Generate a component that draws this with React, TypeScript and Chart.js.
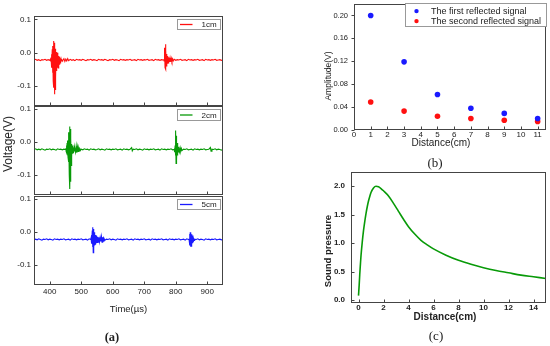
import React, { useEffect, useRef } from "react";
import { Chart, registerables } from "chart.js";
Chart.register(...registerables);

const SANS = '"Liberation Sans", Arial, Helvetica, sans-serif';
const SERIF = '"Liberation Serif", "Times New Roman", serif';
Chart.defaults.font.family = SANS;
Chart.defaults.color = "#222";

// ---------- (a) time signals: [time µs, voltage V] ----------
const sig1cm: [number, number][] = [
  [350,-0.022],[355,-0.020],[360,-0.023],[365,-0.021],[370,-0.024],[375,-0.021],[380,-0.022],[385,-0.020],[390,-0.023],[395,-0.021],[400,-0.023],
  [402,-0.020],[403,-0.026],[404,-0.015],[405,-0.035],[406,-0.005],[407,-0.045],[408,0.010],[409,-0.060],[410,0.020],[411,-0.085],[412,0.035],[413,-0.105],[414,0.030],[415,-0.125],[416,0.022],[417,-0.110],[418,0.012],[419,-0.075],[420,0.002],[421,-0.055],[422,-0.004],[423,-0.048],[424,0.000],[425,-0.045],[426,-0.006],[427,-0.046],[428,-0.010],[429,-0.040],[430,-0.012],[431,-0.036],[432,-0.015],[433,-0.031],[434,-0.017],[435,-0.028],[436,-0.019],[437,-0.026],[438,-0.020],[439,-0.025],[440,-0.021],
  [442,-0.024],[445,-0.018],[448,-0.026],[451,-0.019],[454,-0.025],[457,-0.018],[460,-0.024],[465,-0.020],[470,-0.023],[475,-0.021],[480,-0.024],[485,-0.020],[490,-0.022],[495,-0.021],[500,-0.023],[505,-0.020],[510,-0.022],[515,-0.024],[520,-0.021],[525,-0.022],[530,-0.020],[535,-0.023],[540,-0.021],[545,-0.022],[550,-0.024],[555,-0.020],[560,-0.022],[565,-0.021],[570,-0.023],[575,-0.020],[580,-0.022],[585,-0.024],[590,-0.021],[595,-0.022],[600,-0.020],[605,-0.023],[610,-0.021],[615,-0.022],[620,-0.024],[625,-0.020],[630,-0.022],[635,-0.021],[640,-0.023],[645,-0.021],[650,-0.022],[655,-0.020],[660,-0.023],[665,-0.022],[670,-0.021],[675,-0.024],[680,-0.020],[685,-0.022],[690,-0.021],[695,-0.023],[700,-0.021],[705,-0.022],[710,-0.020],[715,-0.023],[720,-0.022],[725,-0.021],[730,-0.024],[735,-0.020],[740,-0.022],[745,-0.021],[750,-0.023],[755,-0.021],[760,-0.022],
  [762,-0.020],[763,-0.025],[764,-0.010],[765,0.015],[766,-0.045],[767,0.025],[768,-0.050],[769,0.008],[770,-0.040],[771,-0.004],[772,-0.036],[773,-0.010],[774,-0.033],[775,-0.012],[776,-0.031],[777,-0.014],[778,-0.030],[779,-0.015],[780,-0.028],[782,-0.016],[784,-0.028],[786,-0.017],[788,-0.026],[790,-0.019],[792,-0.025],[795,-0.020],
  [800,-0.023],[805,-0.021],[810,-0.022],[815,-0.020],[820,-0.023],[825,-0.022],[830,-0.021],[835,-0.024],[840,-0.020],[845,-0.022],[850,-0.021],[855,-0.023],[860,-0.021],[865,-0.022],[870,-0.020],[875,-0.023],[880,-0.022],[885,-0.021],[890,-0.024],[895,-0.020],[900,-0.022],[905,-0.021],[910,-0.023],[915,-0.021],[920,-0.022],[925,-0.020],[930,-0.023],[935,-0.022],[940,-0.021],[945,-0.023],[950,-0.022],
];

const sig2cm: [number, number][] = [
  [350,-0.022],[355,-0.020],[360,-0.023],[365,-0.021],[370,-0.023],[375,-0.020],[380,-0.022],[385,-0.024],[390,-0.021],[395,-0.022],[400,-0.020],[405,-0.023],[410,-0.021],[415,-0.022],[420,-0.024],[425,-0.020],[430,-0.022],[435,-0.021],[440,-0.023],[445,-0.021],[450,-0.022],
  [451,-0.018],[452,-0.028],[453,-0.010],[454,-0.032],[455,-0.002],[456,-0.038],[457,0.005],[458,-0.045],[459,0.010],[460,-0.060],[461,0.030],[462,-0.100],[463,0.048],[464,-0.142],[465,0.040],[466,-0.120],[467,0.012],[468,-0.070],[469,-0.005],[470,-0.045],[471,-0.010],[472,-0.035],[473,-0.014],[474,-0.032],[475,-0.016],[476,-0.030],[477,-0.018],[478,-0.028],[480,-0.016],[482,-0.030],[484,-0.012],[486,-0.032],[488,-0.014],[490,-0.028],[492,-0.018],[494,-0.026],[496,-0.020],[498,-0.024],
  [500,-0.021],[505,-0.023],[510,-0.020],[515,-0.022],[520,-0.021],[525,-0.024],[530,-0.020],[535,-0.022],[540,-0.021],[545,-0.023],[550,-0.022],[555,-0.020],[560,-0.023],[565,-0.021],[570,-0.022],[575,-0.024],[580,-0.020],[585,-0.022],[590,-0.021],[595,-0.023],[600,-0.021],[605,-0.022],[610,-0.020],[615,-0.023],[620,-0.022],[625,-0.021],[630,-0.024],[635,-0.020],[640,-0.022],[645,-0.021],[650,-0.023],[655,-0.021],[660,-0.016],[662,-0.026],[665,-0.021],[670,-0.022],[675,-0.020],[680,-0.023],[685,-0.021],[690,-0.022],[695,-0.024],[700,-0.020],[705,-0.022],[710,-0.021],[715,-0.023],[720,-0.021],[725,-0.022],[730,-0.020],[735,-0.023],[740,-0.022],[745,-0.021],[750,-0.024],[755,-0.020],[760,-0.022],[765,-0.021],[770,-0.023],[775,-0.021],[780,-0.022],[785,-0.020],[790,-0.023],[795,-0.022],
  [796,-0.018],[797,-0.030],[798,-0.010],[799,-0.040],[800,0.036],[801,-0.064],[802,0.020],[803,-0.055],[804,-0.002],[805,-0.040],[806,-0.010],[807,-0.034],[808,-0.014],[809,-0.031],[810,-0.016],[812,-0.029],[814,-0.017],[816,-0.027],[818,-0.019],[820,-0.025],
  [825,-0.021],[830,-0.022],[835,-0.020],[840,-0.023],[845,-0.022],[850,-0.021],[855,-0.024],[860,-0.020],[865,-0.022],[870,-0.021],[875,-0.023],[880,-0.021],[885,-0.022],[890,-0.020],[895,-0.023],[900,-0.022],[905,-0.021],[910,-0.016],[912,-0.027],[915,-0.021],[920,-0.022],[925,-0.020],[930,-0.023],[935,-0.021],[940,-0.022],[945,-0.024],[950,-0.021],
];

const sig5cm: [number, number][] = [
  [350,-0.022],[355,-0.021],[360,-0.023],[365,-0.020],[370,-0.022],[375,-0.024],[380,-0.021],[385,-0.022],[390,-0.020],[395,-0.023],[400,-0.021],[405,-0.022],[410,-0.024],[415,-0.020],[420,-0.022],[425,-0.021],[430,-0.023],[435,-0.021],[440,-0.022],[445,-0.020],[450,-0.023],[455,-0.022],[460,-0.021],[465,-0.024],[470,-0.020],[475,-0.022],[480,-0.021],[485,-0.023],[490,-0.021],[495,-0.022],[500,-0.020],[505,-0.023],[510,-0.022],[515,-0.021],[520,-0.024],[525,-0.020],[530,-0.022],
  [531,-0.018],[532,-0.028],[533,-0.008],[534,-0.035],[535,0.005],[536,-0.045],[537,0.015],[538,-0.062],[539,0.010],[540,-0.050],[541,0.000],[542,-0.040],[543,-0.005],[544,-0.036],[545,-0.008],[546,-0.034],[547,-0.010],[548,-0.033],[549,-0.012],[550,-0.031],[552,-0.014],[554,-0.030],[556,-0.015],[558,-0.029],[560,-0.016],[562,-0.028],[564,-0.013],[566,-0.030],[568,-0.015],[570,-0.027],[572,-0.018],[575,-0.024],
  [580,-0.021],[585,-0.022],[590,-0.020],[595,-0.023],[600,-0.021],[605,-0.022],[610,-0.024],[615,-0.020],[620,-0.022],[625,-0.021],[630,-0.023],[635,-0.021],[640,-0.022],[645,-0.020],[650,-0.023],[655,-0.022],[660,-0.021],[665,-0.024],[670,-0.020],[675,-0.022],[680,-0.021],[685,-0.023],[690,-0.021],[695,-0.022],[700,-0.020],[705,-0.023],[710,-0.022],[715,-0.021],[720,-0.024],[725,-0.020],[730,-0.022],[735,-0.021],[740,-0.023],[745,-0.021],[750,-0.022],[755,-0.020],[760,-0.023],[765,-0.022],[770,-0.021],[775,-0.024],[780,-0.020],[785,-0.022],[790,-0.021],[795,-0.023],[800,-0.021],[805,-0.022],[810,-0.020],[815,-0.023],[820,-0.022],[825,-0.021],[830,-0.024],[835,-0.020],[840,-0.022],
  [842,-0.020],[843,-0.028],[844,-0.005],[845,-0.040],[846,0.000],[847,-0.044],[848,-0.002],[849,-0.042],[850,-0.006],[851,-0.038],[852,-0.010],[853,-0.033],[854,-0.015],[855,-0.029],[856,-0.018],[858,-0.025],
  [860,-0.021],[865,-0.022],[870,-0.020],[875,-0.023],[880,-0.021],[885,-0.022],[890,-0.024],[895,-0.020],[900,-0.022],[905,-0.021],[910,-0.023],[915,-0.021],[920,-0.022],[925,-0.020],[930,-0.023],[935,-0.022],[940,-0.021],[945,-0.023],[950,-0.022],
];

const timeTicks = [400, 500, 600, 700, 800, 900];
const voltTicks = [-0.1, 0, 0.1];

// ---------- (b) reflected amplitudes ----------
const distB = [1, 3, 5, 7, 9, 11];
const firstRefl = [0.200, 0.119, 0.062, 0.038, 0.029, 0.020];
const secondRefl = [0.049, 0.033, 0.024, 0.020, 0.017, 0.015];
const distTicksB = [0, 1, 2, 3, 4, 5, 6, 7, 8, 9, 10, 11];
const ampTicks = [0, 0.04, 0.08, 0.12, 0.16, 0.2];

// ---------- (c) sound pressure ----------
const distC = [0,0.05,0.1,0.15,0.2,0.3,0.4,0.5,0.6,0.7,0.8,0.9,1.0,1.2,1.4,1.6,1.8,2.0,2.4,2.8,3.2,3.6,4.0,4.5,5,5.5,6,7,8,9,10,11,12,13,14,15];
const pressure = [0.08,0.25,0.45,0.62,0.78,1.02,1.22,1.38,1.52,1.64,1.74,1.82,1.89,1.97,2.00,1.99,1.96,1.92,1.83,1.70,1.56,1.42,1.29,1.16,1.05,0.97,0.90,0.79,0.70,0.63,0.57,0.52,0.48,0.44,0.41,0.38];
const distTicksC = [0, 2, 4, 6, 8, 10, 12, 14];
const pressTicks = [0, 0.5, 1, 1.5, 2];

const RED = "#ff1010";
const GREEN = "#089a08";
const BLUE = "#1a1aff";

const setTicks = (vals: number[]) => (s: any) => {
  s.ticks = vals.map((v) => ({ value: v }));
};
const fixSize = (n: number) => (s: any) => {
  if (s.isHorizontal()) s.height = n;
  else s.width = n;
  s.paddingTop = 0;
  s.paddingBottom = 0;
  s.paddingLeft = 0;
  s.paddingRight = 0;
};

const framePlugin = {
  id: "frame",
  afterDraw(chart: any, _a: any, o: any) {
    const { ctx, chartArea: a } = chart;
    const xs = chart.scales.x;
    const ys = chart.scales.y;
    const L = Math.round(a.left) + 0.5;
    const T = Math.round(a.top) + 0.5;
    const R = Math.round(a.right) - 0.5;
    const B = Math.round(a.bottom) - 0.5;
    ctx.save();
    ctx.strokeStyle = o.color || "#444";
    ctx.lineWidth = 1;
    ctx.strokeRect(L, T, R - L, B - T);
    const len = o.len ?? 3;
    ctx.beginPath();
    xs.ticks.forEach((t: any) => {
      const px = Math.round(xs.getPixelForValue(t.value)) + 0.5;
      const d = o.xOut ? 1 : -1;
      ctx.moveTo(px, B);
      ctx.lineTo(px, B + d * len);
    });
    ys.ticks.forEach((t: any) => {
      const py = Math.round(ys.getPixelForValue(t.value)) + 0.5;
      const d = o.yOut ? -1 : 1;
      ctx.moveTo(L, py);
      ctx.lineTo(L + d * len, py);
    });
    ctx.stroke();
    ctx.restore();
  },
};

const boxLegendPlugin = {
  id: "boxLegend",
  afterDraw(chart: any, _a: any, o: any) {
    if (!o || !o.show) return;
    const { ctx, chartArea: a } = chart;
    const left = Math.round(a.right - o.right - o.width) + 0.5;
    const top = Math.round(a.top + o.top) + 0.5;
    ctx.save();
    ctx.fillStyle = "#fff";
    ctx.fillRect(left, top, o.width, o.height);
    ctx.strokeStyle = o.frameColor || "#888";
    ctx.lineWidth = 1;
    ctx.strokeRect(left, top, o.width, o.height);
    ctx.font = `${o.fontSize}px ${SANS}`;
    ctx.textAlign = "left";
    ctx.textBaseline = "middle";
    chart.data.datasets.forEach((ds: any, i: number) => {
      const cy = top + o.rowTop + i * (o.rowGap || 0);
      const col = String(ds.borderColor || ds.backgroundColor);
      if (o.kind === "line") {
        ctx.strokeStyle = col;
        ctx.lineWidth = 1.3;
        ctx.beginPath();
        ctx.moveTo(left + o.s0, cy);
        ctx.lineTo(left + o.s1, cy);
        ctx.stroke();
      } else {
        ctx.fillStyle = col;
        ctx.beginPath();
        ctx.arc(left + o.s0, cy, o.dot || 2, 0, Math.PI * 2);
        ctx.fill();
      }
      ctx.fillStyle = "#222";
      ctx.fillText(ds.label, left + o.textX, cy + 0.5);
    });
    ctx.restore();
  },
};

function signalConfig(pts: [number, number][], label: string, color: string, padTop: number, xH: number, showX: boolean, legH: number): any {
  return {
    type: "line",
    data: {
      datasets: [
        {
          label,
          data: pts.map(([x, y]) => ({ x, y })),
          borderColor: color,
          backgroundColor: color,
          borderWidth: 1.1,
          pointRadius: 0,
          tension: 0,
          fill: false,
        },
      ],
    },
    options: {
      animation: false,
      responsive: false,
      devicePixelRatio: 1,
      layout: { padding: { top: padTop, right: 7, bottom: 0, left: 0 } },
      plugins: {
        legend: { display: false },
        tooltip: { enabled: false },
        frame: { color: "#444", len: 3 },
        boxLegend: { show: true, right: 3, top: 3, width: 43, height: legH, fontSize: 8, kind: "line", s0: 2.5, s1: 15, rowTop: legH / 2, textX: 24, frameColor: "#999" },
      },
      scales: {
        x: {
          type: "linear",
          min: 350,
          max: 950,
          afterBuildTicks: setTicks(timeTicks),
          afterFit: fixSize(xH),
          grid: { display: false, drawTicks: false },
          border: { display: false },
          ticks: { display: showX, padding: 2, font: { size: 8 }, color: "#222", callback: (v: any) => String(v) },
          title: showX
            ? { display: true, text: "Time(µs)", padding: 0, font: { size: 9.5 }, color: "#222" }
            : { display: false },
        },
        y: {
          type: "linear",
          min: -0.16,
          max: 0.11,
          afterBuildTicks: setTicks(voltTicks),
          afterFit: fixSize(34),
          grid: { display: false, drawTicks: false },
          border: { display: false },
          ticks: { padding: 3, font: { size: 8 }, color: "#222", callback: (v: any) => Number(v).toFixed(1) },
        },
      },
    },
    plugins: [framePlugin, boxLegendPlugin],
  };
}

function scatterConfig(): any {
  return {
    type: "scatter",
    data: {
      datasets: [
        {
          label: "The first reflected signal",
          data: distB.map((d, i) => ({ x: d, y: firstRefl[i] })),
          backgroundColor: BLUE,
          borderColor: BLUE,
          borderWidth: 0,
          pointRadius: 2.8,
        },
        {
          label: "The second reflected signal",
          data: distB.map((d, i) => ({ x: d, y: secondRefl[i] })),
          backgroundColor: RED,
          borderColor: RED,
          borderWidth: 0,
          pointRadius: 2.8,
        },
      ],
    },
    options: {
      animation: false,
      responsive: false,
      devicePixelRatio: 1,
      layout: { padding: { top: 2.4, right: 3, bottom: 1, left: 0 } },
      plugins: {
        legend: { display: false },
        tooltip: { enabled: false },
        frame: { color: "#444", len: 3, yOut: true },
        boxLegend: { show: true, right: 0, top: -1, width: 141, height: 23, fontSize: 9, kind: "dot", dot: 2.2, s0: 11, rowTop: 7.6, rowGap: 10, textX: 25.5, frameColor: "#999" },
      },
      scales: {
        x: {
          type: "linear",
          min: 0,
          max: 11.5,
          afterBuildTicks: setTicks(distTicksB),
          afterFit: fixSize(19),
          grid: { display: false, drawTicks: false },
          border: { display: false },
          ticks: { padding: 0, font: { size: 8 }, color: "#222", callback: (v: any) => String(v) },
        },
        y: {
          type: "linear",
          min: 0,
          max: 0.22,
          afterBuildTicks: setTicks(ampTicks),
          afterFit: fixSize(31),
          grid: { display: false, drawTicks: false },
          border: { display: false },
          ticks: { padding: 6, font: { size: 7.5 }, color: "#222", callback: (v: any) => Number(v).toFixed(2) },
        },
      },
    },
    plugins: [framePlugin, boxLegendPlugin],
  };
}

function pressureConfig(): any {
  return {
    type: "line",
    data: {
      datasets: [
        {
          label: "Sound pressure",
          data: distC.map((d, i) => ({ x: d, y: pressure[i] })),
          borderColor: GREEN,
          backgroundColor: GREEN,
          borderWidth: 1.6,
          pointRadius: 0,
          cubicInterpolationMode: "monotone",
          fill: false,
        },
      ],
    },
    options: {
      animation: false,
      responsive: false,
      devicePixelRatio: 1,
      layout: { padding: { top: 7, right: 4, bottom: 2, left: 0 } },
      plugins: {
        legend: { display: false },
        tooltip: { enabled: false },
        frame: { color: "#444", len: 3 },
        boxLegend: { show: false },
      },
      scales: {
        x: {
          type: "linear",
          min: -0.6,
          max: 15,
          afterBuildTicks: setTicks(distTicksC),
          afterFit: fixSize(20),
          grid: { display: false, drawTicks: false },
          border: { display: false },
          ticks: { padding: 0, font: { size: 8, weight: "bold" }, color: "#222", callback: (v: any) => String(v) },
        },
        y: {
          type: "linear",
          min: -0.05,
          max: 2.25,
          afterBuildTicks: setTicks(pressTicks),
          afterFit: fixSize(29),
          grid: { display: false, drawTicks: false },
          border: { display: false },
          ticks: { padding: 6, font: { size: 8, weight: "bold" }, color: "#222", callback: (v: any) => Number(v).toFixed(1) },
        },
      },
    },
    plugins: [framePlugin],
  };
}

const abs = (l: number, t: number, w: number, h: number): React.CSSProperties => ({
  position: "absolute",
  left: l,
  top: t,
  width: w,
  height: h,
});

const label = (cx: number, cy: number, size: number, extra: React.CSSProperties = {}): React.CSSProperties => ({
  position: "absolute",
  left: cx,
  top: cy,
  transform: "translate(-50%, -50%)",
  whiteSpace: "nowrap",
  lineHeight: 1,
  fontSize: size,
  fontFamily: SANS,
  color: "#222",
  ...extra,
});

export default function App() {
  const a1 = useRef<HTMLCanvasElement>(null);
  const a2 = useRef<HTMLCanvasElement>(null);
  const a3 = useRef<HTMLCanvasElement>(null);
  const b = useRef<HTMLCanvasElement>(null);
  const c = useRef<HTMLCanvasElement>(null);

  useEffect(() => {
    const charts = [
      new Chart(a1.current!, signalConfig(sig1cm, "1cm", RED, 16, 4, false, 10)),
      new Chart(a2.current!, signalConfig(sig2cm, "2cm", GREEN, 6, 5, false, 11)),
      new Chart(a3.current!, signalConfig(sig5cm, "5cm", BLUE, 6, 30, true, 10)),
      new Chart(b.current!, scatterConfig()),
      new Chart(c.current!, pressureConfig()),
    ];
    return () => charts.forEach((ch) => ch.destroy());
  }, []);

  return (
    <div style={{ position: "fixed", left: 0, top: 0, width: 550, height: 346, background: "#fff", overflow: "hidden" }}>
      <canvas ref={a1} width={230} height={110} style={abs(0, 0, 230, 110)} />
      <canvas ref={a2} width={230} height={100} style={abs(0, 100, 230, 100)} />
      <canvas ref={a3} width={230} height={125} style={abs(0, 190, 230, 125)} />
      <canvas ref={b} width={227} height={150} style={abs(323, 0, 227, 150)} />
      <canvas ref={c} width={228} height={160} style={abs(322, 165, 228, 160)} />

      <div style={label(7.5, 144, 12, { transform: "translate(-50%, -50%) rotate(-90deg)" })}>Voltage(V)</div>
      <div style={label(112, 337, 12.5, { fontFamily: SERIF, fontWeight: "bold" })}>(a)</div>

      <div style={label(328, 76, 8.5, { transform: "translate(-50%, -50%) rotate(-90deg)" })}>Amplitude(V)</div>
      <div style={label(441, 143, 10)}>Distance(cm)</div>
      <div style={label(435, 162, 13, { fontFamily: SERIF })}>(b)</div>

      <div style={label(328, 250.5, 9.5, { fontWeight: "bold", transform: "translate(-50%, -50%) rotate(-90deg)" })}>Sound pressure</div>
      <div style={label(445, 317, 10, { fontWeight: "bold" })}>Distance(cm)</div>
      <div style={label(436, 335, 13, { fontFamily: SERIF })}>(c)</div>
    </div>
  );
}
